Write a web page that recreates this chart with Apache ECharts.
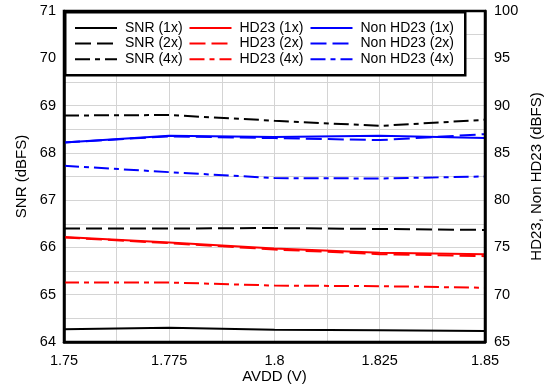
<!DOCTYPE html>
<html><head><meta charset="utf-8">
<script src="https://cdn.jsdelivr.net/npm/echarts@6/dist/echarts.min.js"></script>
<style>html,body{margin:0;padding:0;background:#fff}#c{width:546px;height:387px}</style>
</head><body><div id="c"></div>
<script>
var avdd = [1.75, 1.775, 1.8, 1.825, 1.85];
var snr1x = [64.27, 64.30, 64.26, 64.25, 64.23];
var snr2x = [66.40, 66.40, 66.41, 66.39, 66.37];
var snr4x = [68.79, 68.80, 68.68, 68.57, 68.70];
var hd23_1x = [76.09, 75.52, 74.89, 74.43, 74.28];
var hd23_2x = [76.05, 75.45, 74.78, 74.29, 74.08];
var hd23_4x = [71.29, 71.29, 70.97, 70.90, 70.74];
var nonhd_1x = [86.10, 86.80, 86.67, 86.80, 86.58];
var nonhd_2x = [86.10, 86.75, 86.56, 86.35, 86.98];
var nonhd_4x = [83.63, 82.96, 82.33, 82.29, 82.50];
var xTickLabels = ['1.75', '1.775', '1.8', '1.825', '1.85'];
var leftTickLabels = ['64', '65', '66', '67', '68', '69', '70', '71'];
var rightTickLabels = ['65', '70', '75', '80', '85', '90', '95', '100'];

function pairs(ys) { return avdd.map(function (x, i) { return [x, ys[i]]; }); }
var FONT = 'Liberation Sans, Arial, sans-serif';
var DASH = [16, 6];
var DASHDOT = [15, 5, 5, 5];
function mk(name, data, color, type, yIdx) {
  return {
    name: name, type: 'line', data: pairs(data), yAxisIndex: yIdx,
    symbol: 'none', smooth: false, z: 2,
    lineStyle: { color: color, width: 2, type: type },
    itemStyle: { color: color }
  };
}
var series = [
  mk('SNR (1x)', snr1x, '#000000', 'solid', 0),
  mk('SNR (2x)', snr2x, '#000000', DASH, 0),
  mk('SNR (4x)', snr4x, '#000000', DASHDOT, 0),
  mk('HD23 (1x)', hd23_1x, '#ff0000', 'solid', 1),
  mk('HD23 (2x)', hd23_2x, '#ff0000', DASH, 1),
  mk('HD23 (4x)', hd23_4x, '#ff0000', DASHDOT, 1),
  mk('Non HD23 (1x)', nonhd_1x, '#0000ff', 'solid', 1),
  mk('Non HD23 (2x)', nonhd_2x, '#0000ff', DASH, 1),
  mk('Non HD23 (4x)', nonhd_4x, '#0000ff', DASHDOT, 1)
];
function leg(names, left) {
  return {
    orient: 'vertical', left: left, top: 21, z: 10, padding: 0,
    itemWidth: 42, itemHeight: 14, itemGap: 1.6,
    itemStyle: { opacity: 0 },
    textStyle: { fontFamily: FONT, fontSize: 14, color: '#000', padding: [0, 0, 0, 3] },
    data: names
  };
}
var chart = echarts.init(document.getElementById('c'), null, { renderer: 'canvas' });
chart.setOption({
  animation: false,
  backgroundColor: '#fff',
  textStyle: { fontFamily: FONT },
  grid: { left: 64, right: 61, top: 11, bottom: 45, outerBoundsMode: 'none', containLabel: false, show: true, borderColor: '#000', borderWidth: 2.5, backgroundColor: 'transparent', z: 5 },
  legend: [
    leg(['SNR (1x)', 'SNR (2x)', 'SNR (4x)'], 74),
    leg(['HD23 (1x)', 'HD23 (2x)', 'HD23 (4x)'], 188.5),
    leg(['Non HD23 (1x)', 'Non HD23 (2x)', 'Non HD23 (4x)'], 309.5)
  ],
  graphic: [{
    type: 'rect', z: 8, left: 64, top: 11,
    shape: { width: 400, height: 63 },
    style: { fill: '#fff', stroke: '#000', lineWidth: 2.5 }
  }],
  xAxis: {
    type: 'value', min: 1.75, max: 1.85, interval: 0.0125,
    name: 'AVDD (V)', nameLocation: 'middle', nameGap: 27, nameMoveOverlap: false,
    nameTextStyle: { fontFamily: FONT, fontSize: 15, color: '#000' },
    axisLine: { show: true, lineStyle: { color: '#000', width: 2.5 } },
    axisTick: { show: false },
    axisLabel: {
      fontFamily: FONT, fontSize: 14.5, color: '#000', margin: 11,
      formatter: function (v) {
        var k = Math.round((v - 1.75) / 0.0125);
        return k % 2 === 0 ? xTickLabels[k / 2] : '';
      }
    },
    splitLine: { show: true, lineStyle: { color: '#d4d4d4', width: 1 } }
  },
  yAxis: [{
    type: 'value', min: 64, max: 71, interval: 0.5, position: 'left',
    name: 'SNR (dBFS)', nameLocation: 'middle', nameGap: 35, nameRotate: 90, nameMoveOverlap: false,
    nameTextStyle: { fontFamily: FONT, fontSize: 15, color: '#000' },
    axisLine: { show: true, lineStyle: { color: '#000', width: 2.5 } },
    axisTick: { show: false },
    axisLabel: {
      fontFamily: FONT, fontSize: 14.5, color: '#000', margin: 8,
      formatter: function (v) {
        var k = Math.round((v - 64) / 0.5);
        return k % 2 === 0 ? leftTickLabels[k / 2] : '';
      }
    },
    splitLine: { show: true, lineStyle: { color: '#d4d4d4', width: 1 } }
  }, {
    type: 'value', min: 65, max: 100, interval: 2.5, position: 'right',
    name: 'HD23, Non HD23 (dBFS)', nameLocation: 'middle', nameGap: 44, nameRotate: 90, nameMoveOverlap: false,
    nameTextStyle: { fontFamily: FONT, fontSize: 15, color: '#000' },
    axisLine: { show: true, lineStyle: { color: '#000', width: 2.5 } },
    axisTick: { show: false },
    axisLabel: {
      fontFamily: FONT, fontSize: 14.5, color: '#000', margin: 9,
      formatter: function (v) {
        var k = Math.round((v - 65) / 2.5);
        return k % 2 === 0 ? rightTickLabels[k / 2] : '';
      }
    },
    splitLine: { show: false }
  }],
  series: series
});
</script></body></html>
